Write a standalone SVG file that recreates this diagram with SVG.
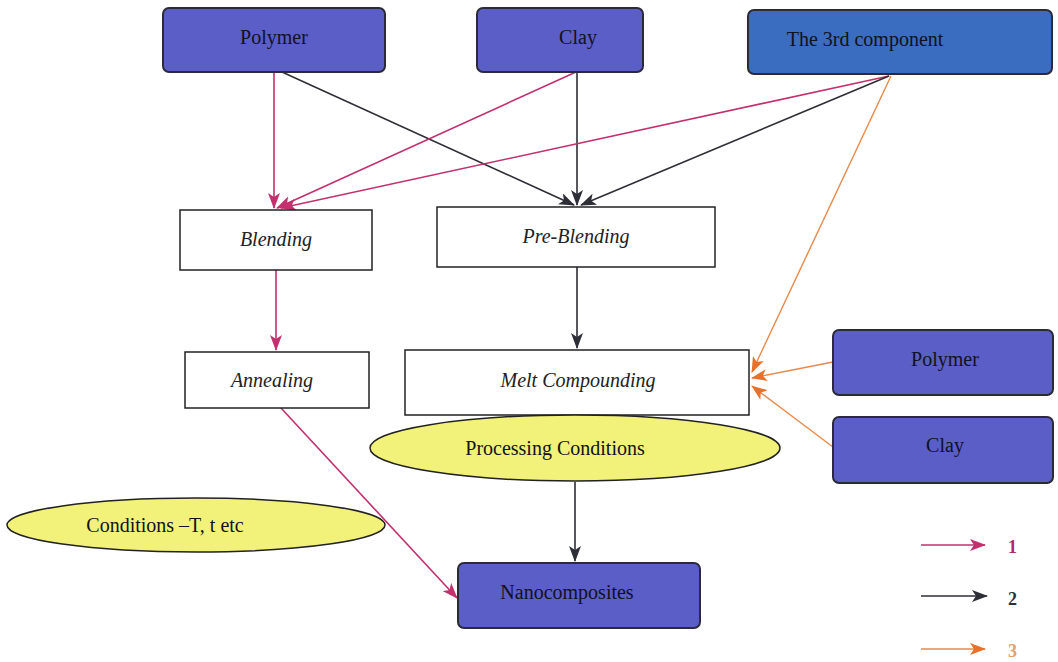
<svg xmlns="http://www.w3.org/2000/svg" width="1058" height="662" viewBox="0 0 1058 662">
<style>
.src{fill:#5a5ec6;stroke:#2a2a3a;stroke-width:2}
.src3{fill:#3a6dbf;stroke:#2a2a3a;stroke-width:2}
.proc{fill:#ffffff;stroke:#222;stroke-width:1.5}
.cond{fill:#f2f27a;stroke:#222;stroke-width:1.5}
.t{font-family:"Liberation Serif",serif;font-size:20px;fill:#111122;text-anchor:middle}
.ti{font-family:"Liberation Serif",serif;font-size:20px;font-style:italic;fill:#222;text-anchor:middle}
.m{stroke:#c2306e;stroke-width:1.6;fill:none}
.k{stroke:#2e2e36;stroke-width:1.6;fill:none}
.o{stroke:#e8894a;stroke-width:1.4;fill:none}
.lg{font-family:"Liberation Serif",serif;font-size:18px;font-weight:bold}
</style>
<defs>
<marker id="am" viewBox="0 0 16 12" refX="15" refY="6" markerWidth="16" markerHeight="12" markerUnits="userSpaceOnUse" orient="auto"><path d="M0,0 L16,6 L0,12 L4,6 Z" fill="#c2306e"/></marker>
<marker id="ak" viewBox="0 0 16 12" refX="15" refY="6" markerWidth="16" markerHeight="12" markerUnits="userSpaceOnUse" orient="auto"><path d="M0,0 L16,6 L0,12 L4,6 Z" fill="#2e2e36"/></marker>
<marker id="ao" viewBox="0 0 16 12" refX="15" refY="6" markerWidth="16" markerHeight="12" markerUnits="userSpaceOnUse" orient="auto"><path d="M0,0 L16,6 L0,12 L4,6 Z" fill="#e8702a"/></marker>
</defs>
<rect width="1058" height="662" fill="#ffffff"/>
<g id="connectors">
<line class="m" x1="274" y1="72" x2="274" y2="208" marker-end="url(#am)"/>
<line class="k" x1="282" y1="72" x2="574" y2="205" marker-end="url(#ak)"/>
<line class="m" x1="576" y1="72" x2="277" y2="208" marker-end="url(#am)"/>
<line class="k" x1="577" y1="72" x2="577" y2="205" marker-end="url(#ak)"/>
<line class="m" x1="889" y1="76" x2="281" y2="208" marker-end="url(#am)"/>
<line class="k" x1="889" y1="76" x2="581" y2="205" marker-end="url(#ak)"/>
<line class="o" x1="891" y1="76" x2="752" y2="372" marker-end="url(#ao)"/>
<line class="m" x1="276" y1="270" x2="276" y2="350" marker-end="url(#am)"/>
<line class="k" x1="577" y1="267" x2="577" y2="348" marker-end="url(#ak)"/>
<line class="o" x1="833" y1="362" x2="752" y2="378" marker-end="url(#ao)"/>
<line class="o" x1="833" y1="447" x2="752" y2="386" marker-end="url(#ao)"/>
<line class="k" x1="575" y1="482" x2="575" y2="561" marker-end="url(#ak)"/>
</g>
<g id="n-conditions"><ellipse class="cond" cx="196" cy="525" rx="189" ry="27"/><text class="t" x="165" y="532">Conditions –T, t etc</text></g>
<g id="connectors-2"><line class="m" x1="281" y1="408" x2="457" y2="598" marker-end="url(#am)"/></g>
<g id="n-polymer"><rect class="src" x="163" y="8" width="222" height="64" rx="6"/><text class="t" x="274" y="44">Polymer</text></g>
<g id="n-clay"><rect class="src" x="477" y="8" width="166" height="64" rx="6"/><text class="t" x="578" y="44">Clay</text></g>
<g id="n-third"><rect class="src3" x="748" y="10" width="304" height="64" rx="6"/><text class="t" x="865" y="46">The 3rd component</text></g>
<g id="n-blending"><rect class="proc" x="180" y="210" width="192" height="60"/><text class="ti" x="276" y="246">Blending</text></g>
<g id="n-preblending"><rect class="proc" x="437" y="207" width="278" height="60"/><text class="ti" x="576" y="243">Pre-Blending</text></g>
<g id="n-annealing"><rect class="proc" x="185" y="352" width="184" height="56"/><text class="ti" x="272" y="387">Annealing</text></g>
<g id="n-melt"><rect class="proc" x="405" y="350" width="344" height="65"/><text class="ti" x="578" y="387">Melt Compounding</text></g>
<g id="n-processing"><ellipse class="cond" cx="575" cy="448" rx="205" ry="33"/><text class="t" x="555" y="455">Processing Conditions</text></g>
<g id="n-nano"><rect class="src" x="458" y="563" width="242" height="65" rx="6"/><text class="t" x="567" y="599">Nanocomposites</text></g>
<g id="n-polymer2"><rect class="src" x="833" y="330" width="220" height="65" rx="6"/><text class="t" x="945" y="366">Polymer</text></g>
<g id="n-clay2"><rect class="src" x="833" y="417" width="220" height="66" rx="6"/><text class="t" x="945" y="452">Clay</text></g>
<g id="legend">
<line class="m" x1="921" y1="545" x2="985" y2="545" marker-end="url(#am)"/>
<text class="lg" x="1008" y="553" fill="#b02a6a">1</text>
<line class="k" x1="921" y1="596" x2="987" y2="596" marker-end="url(#ak)"/>
<text class="lg" x="1008" y="605" fill="#2e2e36">2</text>
<line class="o" x1="921" y1="649" x2="985" y2="649" marker-end="url(#ao)"/>
<text class="lg" x="1008" y="657" fill="#e0a070">3</text>
</g>
</svg>
